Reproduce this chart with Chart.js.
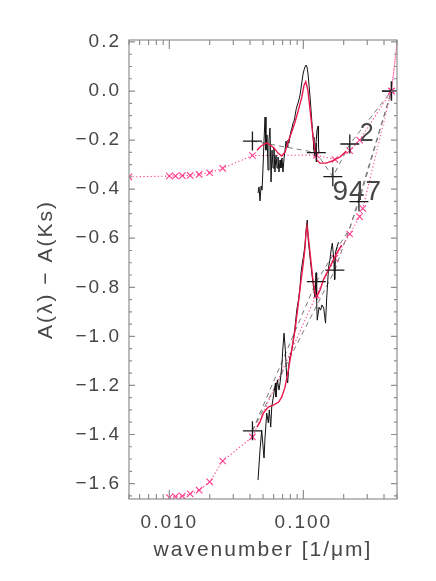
<!DOCTYPE html>
<html>
<head>
<meta charset="utf-8">
<script src="https://cdn.jsdelivr.net/npm/chart.js"></script>
<style>
  body { margin: 0; background: #fff; }
  canvas { display: block; }
</style>
</head>
<body>
<canvas id="c" width="436" height="581"></canvas>
<script>
// axis ranges and tick labels
var xRange = [0.005, 0.5];
var yRange = [-1.663, 0.208];
var xTickLabels = ['0.010', '0.100'];
var yTickLabels = ['0.2', '0.0', '\u22120.2', '\u22120.4', '\u22120.6', '\u22120.8', '\u22121.0', '\u22121.2', '\u22121.4', '\u22121.6'];

// model (pink crosses, dotted)
var modelUpX = [0.005, 0.01, 0.0111, 0.0125, 0.0143, 0.0167, 0.02, 0.025, 0.0417, 0.125, 0.172, 0.222, 0.263, 0.4545, 0.545];
var modelUpY = [-0.350, -0.3465, -0.3465, -0.345, -0.344, -0.340, -0.333, -0.315, -0.263, -0.261, -0.279, -0.243, -0.200, 0.0, 0.37];
var modelLoX = [0.01, 0.0111, 0.0125, 0.0143, 0.0167, 0.02, 0.025, 0.0417, 0.125, 0.172, 0.222, 0.263, 0.2778, 0.4545, 0.545];
var modelLoY = [-1.657, -1.653, -1.651, -1.642, -1.627, -1.593, -1.508, -1.410, -0.832, -0.682, -0.583, -0.512, -0.479, 0.0, 0.37];

// photometry (black plus signs)
var photUpX = [0.0417, 0.125, 0.166, 0.2222, 0.4545];
var photUpY = [-0.204, -0.251, -0.349, -0.216, 0.0];
var photLoX = [0.0417, 0.125, 0.172, 0.26, 0.4545];
var photLoY = [-1.385, -0.777, -0.730, -0.451, 0.0];

// grey dashed connections
var dashUpX = [0.0417, 0.125, 0.166, 0.2222, 0.4545];
var dashUpY = [-0.204, -0.251, -0.349, -0.216, 0.0];
var dashLoAX = [0.0417, 0.172, 0.26, 0.4545];
var dashLoAY = [-1.385, -0.730, -0.451, 0.0];
var dashLoBX = [0.0417, 0.125, 0.2222, 0.4545];
var dashLoBY = [-1.385, -0.777, -0.56, 0.0];

// spectra (black)
var specUpX = [0.0459,0.0467,0.0475,0.0484,0.0492,0.0500,0.0509,0.0518,0.0526,0.0536,0.0545,0.0554,0.0564,0.0574,0.0584,0.0594,0.0604,0.0614,0.0625,0.0636,0.0647,0.0658,0.0670,0.0681,0.0693,0.0705,0.0718,0.0730,0.0743,0.0756,0.0768,0.0782,0.0796,0.0809,0.0823,0.0838,0.0852,0.0867,0.0882,0.0897,0.0913,0.0929,0.0945,0.0961,0.0978,0.0995,0.1012,0.1029,0.1047,0.1065,0.1084,0.1103,0.1122,0.1141,0.1161,0.1181,0.1201,0.1222,0.1244,0.1265,0.1287,0.1298,0.1310];
var specUpY = [-0.416,-0.391,-0.448,-0.387,-0.404,-0.314,-0.200,-0.106,-0.241,-0.179,-0.322,-0.200,-0.151,-0.371,-0.241,-0.314,-0.232,-0.330,-0.261,-0.314,-0.269,-0.330,-0.281,-0.314,-0.273,-0.330,-0.273,-0.241,-0.204,-0.228,-0.200,-0.212,-0.183,-0.163,-0.151,-0.130,-0.122,-0.102,-0.077,-0.061,-0.049,-0.033,-0.016,0.012,0.041,0.069,0.086,0.098,0.106,0.098,0.069,0.024,-0.024,-0.077,-0.135,-0.188,-0.241,-0.265,-0.212,-0.159,-0.143,-0.228,-0.253];
var specLoX = [0.0459,0.0475,0.0489,0.0503,0.0509,0.0518,0.0533,0.0548,0.0557,0.0571,0.0581,0.0597,0.0608,0.0619,0.0625,0.0640,0.0658,0.0670,0.0690,0.0702,0.0718,0.0734,0.0751,0.0764,0.0782,0.0796,0.0819,0.0842,0.0867,0.0893,0.0919,0.0945,0.0961,0.0983,0.1000,0.1029,0.1052,0.1070,0.1088,0.1122,0.1156,0.1191,0.1222,0.1244,0.1257,0.1270,0.1310,0.1344,0.1379,0.1419,0.1464,0.1495,0.1544,0.1579,0.1612,0.1646,0.1690,0.1709,0.1736,0.1782,0.1830];
var specLoY = [-1.586,-1.464,-1.382,-1.464,-1.496,-1.411,-1.313,-1.353,-1.300,-1.370,-1.288,-1.247,-1.219,-1.190,-1.247,-1.178,-1.219,-1.190,-1.125,-1.056,-0.987,-1.056,-1.166,-1.190,-1.109,-1.084,-1.056,-1.015,-0.962,-0.893,-0.852,-0.799,-0.742,-0.701,-0.677,-0.628,-0.558,-0.526,-0.607,-0.677,-0.742,-0.799,-0.840,-0.742,-0.852,-0.934,-0.881,-0.893,-0.872,-0.885,-0.946,-0.840,-0.717,-0.689,-0.648,-0.620,-0.689,-0.770,-0.660,-0.636,-0.616];

// fitted spectra (red)
var fitUpX = [0.0451,0.0475,0.0509,0.0536,0.0564,0.0604,0.0647,0.0690,0.0730,0.0768,0.0819,0.0867,0.0919,0.0975,0.1012,0.1043,0.1081,0.1122,0.1173,0.1222,0.1257,0.1333,0.1483,0.1646,0.1880,0.2092];
var fitUpY = [-0.241,-0.228,-0.216,-0.212,-0.220,-0.232,-0.253,-0.265,-0.249,-0.208,-0.167,-0.126,-0.077,-0.024,0.024,0.038,0.004,-0.077,-0.171,-0.241,-0.281,-0.294,-0.294,-0.285,-0.269,-0.245];
var fitLoX = [0.0451,0.0475,0.0503,0.0548,0.0597,0.0655,0.0690,0.0730,0.0773,0.0819,0.0867,0.0919,0.0956,0.1000,0.1029,0.1047,0.1065,0.1084,0.1122,0.1173,0.1222,0.1257,0.1333,0.1409,0.1534,0.1646,0.1782,0.1930];
var fitLoY = [-1.370,-1.349,-1.313,-1.288,-1.280,-1.268,-1.247,-1.207,-1.137,-1.056,-0.974,-0.864,-0.783,-0.701,-0.640,-0.575,-0.550,-0.583,-0.660,-0.758,-0.823,-0.840,-0.811,-0.770,-0.730,-0.697,-0.660,-0.628];

// object labels
var noteText = ['2', '947'];
var noteX = [0.297, 0.2527];
var noteY = [-0.175, -0.414];

function pts(xs, ys) {
	return xs.map(function(v, i){ return {x: v, y: ys[i]}; });
}

var PINK = '#ff3d8e';
var RED = '#e8194a';
var INK = '#474747';
var FRAME = '#8f8f8f';

var framePlugin = {
	id: 'frame',
	beforeDraw: function(chart){
		chart.ctx.letterSpacing = '2px';
	},
	afterDatasetsDraw: function(chart){
		var ctx = chart.ctx, a = chart.chartArea;
		var xs = chart.scales.x, ys = chart.scales.y;
		ctx.save();
		ctx.strokeStyle = FRAME;
		ctx.lineWidth = 1.2;
		ctx.strokeRect(a.left, a.top, a.right - a.left, a.bottom - a.top);
		ctx.beginPath();
		xs.ticks.forEach(function(t){
			var p = xs.getPixelForValue(t.value);
			var len = t.major ? 9 : 5;
			ctx.moveTo(p, a.bottom); ctx.lineTo(p, a.bottom - len);
			ctx.moveTo(p, a.top); ctx.lineTo(p, a.top + len);
		});
		ys.ticks.forEach(function(t){
			var p = ys.getPixelForValue(t.value);
			var len = t.major ? 6 : 3;
			ctx.moveTo(a.left, p); ctx.lineTo(a.left + len, p);
			ctx.moveTo(a.right, p); ctx.lineTo(a.right - len, p);
		});
		ctx.stroke();

		ctx.fillStyle = INK;
		ctx.textAlign = 'center';
		ctx.textBaseline = 'middle';
		noteText.forEach(function(s, i){
			var size = s.length > 1 ? 28 : 25;
			ctx.font = size + 'px "Liberation Sans", Arial, sans-serif';
			ctx.letterSpacing = s.length > 1 ? '1px' : '0px';
			ctx.fillText(s, xs.getPixelForValue(noteX[i]), ys.getPixelForValue(noteY[i]));
		});
		ctx.restore();
	}
};

Chart.defaults.font.family = '"Liberation Sans", Arial, sans-serif';
Chart.defaults.color = INK;

var chart = new Chart(document.getElementById('c'), {
	type : 'scatter',
	data : {
		datasets : [
			{ data: pts(photUpX, photUpY), order: 0, showLine: false, pointStyle: 'cross', pointRadius: 9.5, borderColor: '#1a1a1a', pointBorderWidth: 1.3 },
			{ data: pts(photLoX, photLoY), order: 0, showLine: false, pointStyle: 'cross', pointRadius: 9.5, borderColor: '#1a1a1a', pointBorderWidth: 1.3 },
			{ data: pts(fitUpX, fitUpY), order: 1, showLine: true, pointRadius: 0, borderColor: RED, borderWidth: 1.4 },
			{ data: pts(fitLoX, fitLoY), order: 1, showLine: true, pointRadius: 0, borderColor: RED, borderWidth: 1.4 },
			{ data: pts(specUpX, specUpY), order: 2, showLine: true, pointRadius: 0, borderColor: '#111', borderWidth: 1 },
			{ data: pts(specLoX, specLoY), order: 2, showLine: true, pointRadius: 0, borderColor: '#111', borderWidth: 1 },
			{ data: pts(modelUpX, modelUpY), order: 3, showLine: true, borderDash: [1.2, 2.4], borderColor: PINK, borderWidth: 1.1, pointStyle: 'crossRot', pointRadius: 4.5, pointBorderWidth: 1.1 },
			{ data: pts(modelLoX, modelLoY), order: 3, showLine: true, borderDash: [1.2, 2.4], borderColor: PINK, borderWidth: 1.1, pointStyle: 'crossRot', pointRadius: 4.5, pointBorderWidth: 1.1 },
			{ data: pts(dashUpX, dashUpY), order: 4, showLine: true, pointRadius: 0, borderDash: [5, 4], borderColor: '#777', borderWidth: 1 },
			{ data: pts(dashLoAX, dashLoAY), order: 4, showLine: true, pointRadius: 0, borderDash: [5, 4], borderColor: '#777', borderWidth: 1 },
			{ data: pts(dashLoBX, dashLoBY), order: 4, showLine: true, pointRadius: 0, borderDash: [5, 4], borderColor: '#777', borderWidth: 1 }
		]
	},
	options : {
		responsive : false,
		animation : false,
		events : [],
		layout : { padding: { left: 0, right: 39, top: 40, bottom: 0 } },
		plugins : { legend: { display: false }, tooltip: { enabled: false } },
		scales : {
			x : {
				type : 'logarithmic',
				min : xRange[0],
				max : xRange[1],
				grid : { display: false, drawTicks: false },
				border : { display: false },
				afterFit : function(s){ s.height = 82; },
				afterBuildTicks : function(s){
					var t = [];
					[0.001, 0.01, 0.1].forEach(function(dec){
						for (var k = 1; k <= 9; k++) {
							var v = +(k * dec).toPrecision(3);
							if (v >= xRange[0] - 1e-9 && v <= xRange[1] + 1e-9) t.push({ value: v, major: k === 1 });
						}
					});
					s.ticks = t;
				},
				ticks : {
					autoSkip : false,
					maxRotation : 0,
					padding : 12,
					font : { size: 19 },
					color : INK,
					callback : function(v){
						if (Math.abs(v - 0.01) < 1e-9) return xTickLabels[0];
						if (Math.abs(v - 0.1) < 1e-9) return xTickLabels[1];
						return '';
					}
				},
				title : { display: true, text: 'wavenumber [1/\u03bcm]', color: INK, font: { size: 21 }, padding: { top: 0, bottom: 18 } }
			},
			y : {
				min : yRange[0],
				max : yRange[1],
				grid : { display: false, drawTicks: false },
				border : { display: false },
				afterFit : function(s){ s.width = 129; },
				afterBuildTicks : function(s){
					var t = [];
					for (var k = -33; k <= 4; k++) {
						t.push({ value: k * 0.05, major: k % 4 === 0 });
					}
					s.ticks = t;
				},
				ticks : {
					autoSkip : false,
					padding : 8,
					font : { size: 19 },
					color : INK,
					callback : function(v){
						var k = Math.round(v / 0.05);
						if (k % 4 !== 0) return '';
						return yTickLabels[(4 - k) / 4];
					}
				},
				title : { display: true, text: 'A(\u03bb) \u2212 A(Ks)', color: INK, font: { size: 21 }, padding: { top: 34, bottom: 0 } }
			}
		}
	},
	plugins : [framePlugin]
});
</script>
</body>
</html>
